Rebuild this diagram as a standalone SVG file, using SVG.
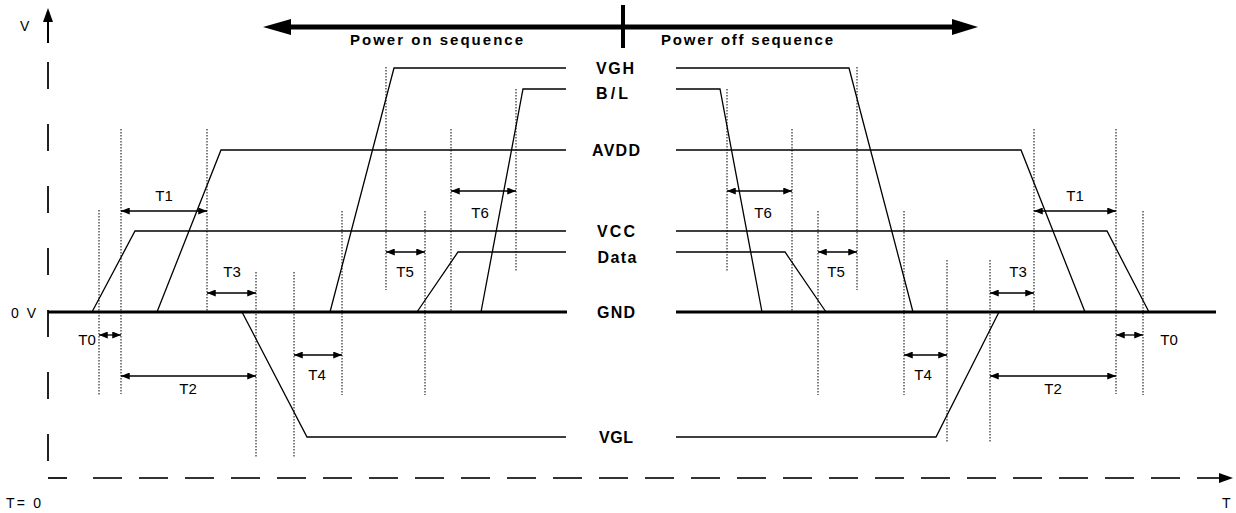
<svg xmlns="http://www.w3.org/2000/svg" width="1236" height="513" viewBox="0 0 1236 513">
<style>
.wave{fill:none;stroke:#000;stroke-width:1.3;stroke-linejoin:miter}
.gnd{fill:none;stroke:#000;stroke-width:3}
.dot{stroke:#000;stroke-width:1;stroke-dasharray:1.5 1.5}
.dim{stroke:#000;stroke-width:1.3;marker-start:url(#ah);marker-end:url(#ah)}
.lbl{font-family:"Liberation Sans",Arial,sans-serif;font-weight:bold;font-size:16px;text-anchor:middle;fill:#000}
.tl{font-family:"Liberation Sans",Arial,sans-serif;font-size:15px;text-anchor:middle;fill:#000}
.ax{font-family:"Liberation Sans",Arial,sans-serif;font-size:14px;fill:#000}
.seq{font-family:"Liberation Sans",Arial,sans-serif;font-weight:bold;font-size:15px;fill:#000}
</style>
<defs>
<marker id="ah" viewBox="0 0 10 8" refX="10" refY="4" markerWidth="9" markerHeight="7" markerUnits="userSpaceOnUse" orient="auto-start-reverse">
<path d="M0,0 L10,4 L0,8 z" fill="#000"/>
</marker>
</defs>
<rect width="1236" height="513" fill="#fff"/>

<g id="axes">
<line x1="48" y1="20" x2="48" y2="43" stroke="#000" stroke-width="2"/>
<polygon points="48,8 43,22 53,22" fill="#000"/>
<line x1="48" y1="43" x2="48" y2="478" stroke="#222" stroke-width="2" stroke-dasharray="0 19 27 16"/>
<line x1="48" y1="478" x2="67" y2="478" stroke="#222" stroke-width="2"/>
<line x1="93" y1="478" x2="1220" y2="478" stroke="#333" stroke-width="2" stroke-dasharray="29 17"/>
<polygon points="1233,478 1219,473 1219,483" fill="#000"/>
<text class="ax" x="20" y="31">V</text>
<text class="ax" x="11" y="318" textLength="25">0 V</text>
<text class="ax" x="6" y="508" textLength="35">T= 0</text>
<text class="ax" x="1222" y="508">T</text>
</g>

<g id="sequence">
<line x1="288" y1="27" x2="955" y2="27" stroke="#000" stroke-width="5"/>
<polygon points="263,27 291,19 291,35" fill="#000"/>
<polygon points="978,27 952,19 952,35" fill="#000"/>
<line x1="623" y1="5" x2="623" y2="48" stroke="#000" stroke-width="4"/>
<text class="seq" x="350" y="45" textLength="173" lengthAdjust="spacing">Power on sequence</text>
<text class="seq" x="661" y="45" textLength="172" lengthAdjust="spacing">Power off sequence</text>
</g>

<g id="gnd">
<line class="gnd" x1="48" y1="312" x2="567" y2="312"/>
<line class="gnd" x1="676" y1="312" x2="1216" y2="312"/>
<text class="lbl" x="616" y="318" textLength="38">GND</text>
</g>

<g id="vgh">
<polyline class="wave" points="330,312 394,68 566,68"/>
<polyline class="wave" points="676,68 849,68 913,312"/>
<text class="lbl" x="615" y="74" textLength="38">VGH</text>
</g>

<g id="bl">
<polyline class="wave" points="481,312 523,89 566,89"/>
<polyline class="wave" points="676,89 720,89 762,312"/>
<text class="lbl" x="612" y="99" textLength="32">B/L</text>
</g>

<g id="avdd">
<polyline class="wave" points="157,312 221,150 566,150"/>
<polyline class="wave" points="676,150 1021,150 1085,312"/>
<text class="lbl" x="616" y="156" textLength="48">AVDD</text>
</g>

<g id="vcc">
<polyline class="wave" points="92,312 135,231 566,231"/>
<polyline class="wave" points="676,231 1107,231 1149,312"/>
<text class="lbl" x="616" y="237" textLength="38">VCC</text>
</g>

<g id="data">
<polyline class="wave" points="417,312 458,252 566,252"/>
<polyline class="wave" points="676,252 785,252 826,312"/>
<text class="lbl" x="617" y="263" textLength="39">Data</text>
</g>

<g id="vgl">
<polyline class="wave" points="242,312 307,437 566,437"/>
<polyline class="wave" points="676,437 936,437 999,312"/>
<text class="lbl" x="616" y="443" textLength="34">VGL</text>
</g>

<g id="guides">
<line class="dot" x1="99" y1="210" x2="99" y2="395"/>
<line class="dot" x1="121" y1="129" x2="121" y2="394"/>
<line class="dot" x1="207" y1="129" x2="207" y2="312"/>
<line class="dot" x1="256" y1="272" x2="256" y2="457"/>
<line class="dot" x1="294" y1="272" x2="294" y2="457"/>
<line class="dot" x1="342" y1="211" x2="342" y2="395"/>
<line class="dot" x1="386" y1="67" x2="386" y2="290"/>
<line class="dot" x1="425" y1="211" x2="425" y2="395"/>
<line class="dot" x1="451" y1="129" x2="451" y2="312"/>
<line class="dot" x1="516" y1="89" x2="516" y2="272"/>
<line class="dot" x1="727" y1="89" x2="727" y2="272"/>
<line class="dot" x1="792" y1="129" x2="792" y2="312"/>
<line class="dot" x1="818" y1="211" x2="818" y2="395"/>
<line class="dot" x1="857" y1="67" x2="857" y2="290"/>
<line class="dot" x1="904" y1="211" x2="904" y2="395"/>
<line class="dot" x1="947" y1="260" x2="947" y2="442"/>
<line class="dot" x1="990" y1="260" x2="990" y2="442"/>
<line class="dot" x1="1034" y1="129" x2="1034" y2="312"/>
<line class="dot" x1="1116" y1="129" x2="1116" y2="394"/>
<line class="dot" x1="1143" y1="211" x2="1143" y2="395"/>
</g>

<g id="connectors">
<line class="dim" x1="121" y1="211" x2="207" y2="211"/>
<line class="dim" x1="99" y1="335" x2="121" y2="335"/>
<line class="dim" x1="121" y1="376" x2="256" y2="376"/>
<line class="dim" x1="207" y1="293" x2="256" y2="293"/>
<line class="dim" x1="294" y1="355" x2="342" y2="355"/>
<line class="dim" x1="386" y1="252" x2="425" y2="252"/>
<line class="dim" x1="451" y1="191" x2="516" y2="191"/>
<line class="dim" x1="727" y1="191" x2="792" y2="191"/>
<line class="dim" x1="818" y1="252" x2="857" y2="252"/>
<line class="dim" x1="904" y1="355" x2="947" y2="355"/>
<line class="dim" x1="990" y1="293" x2="1034" y2="293"/>
<line class="dim" x1="990" y1="376" x2="1116" y2="376"/>
<line class="dim" x1="1034" y1="211" x2="1116" y2="211"/>
<line class="dim" x1="1116" y1="335" x2="1143" y2="335"/>
</g>

<g id="labels">
<text class="tl" x="164" y="201">T1</text>
<text class="tl" x="87" y="345">T0</text>
<text class="tl" x="188" y="394">T2</text>
<text class="tl" x="232" y="277">T3</text>
<text class="tl" x="317" y="380">T4</text>
<text class="tl" x="405" y="277">T5</text>
<text class="tl" x="480" y="218">T6</text>
<text class="tl" x="763" y="218">T6</text>
<text class="tl" x="836" y="277">T5</text>
<text class="tl" x="923" y="380">T4</text>
<text class="tl" x="1018" y="277">T3</text>
<text class="tl" x="1053" y="394">T2</text>
<text class="tl" x="1075" y="201">T1</text>
<text class="tl" x="1169" y="345">T0</text>
</g>
</svg>
